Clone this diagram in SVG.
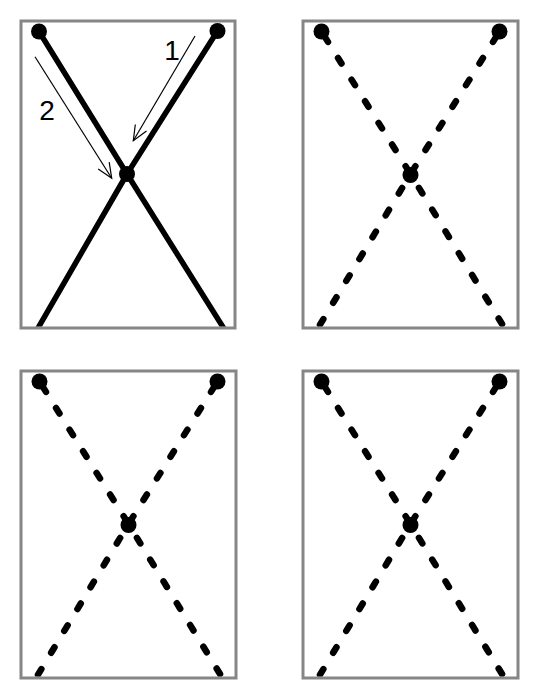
<svg xmlns="http://www.w3.org/2000/svg" xmlns:xlink="http://www.w3.org/1999/xlink" width="540" height="700" viewBox="0 0 540 700">
  <style>
    .frame { fill: #ffffff; stroke: #868686; stroke-width: 3; }
    .solid { fill: none; stroke: #000000; stroke-width: 5.5; stroke-linejoin: round; }
    .dash { fill: none; stroke: #000000; stroke-width: 6.5; stroke-linecap: round; stroke-dasharray: 6.5 19; stroke-dashoffset: 19.75; }
    .dot { fill: #000000; }
    .arrow { fill: none; stroke: #000000; stroke-width: 1.2; }
    .label { font-family: "Liberation Sans", Arial, sans-serif; font-size: 28px; fill: #000000; text-anchor: middle; }
  </style>
  <defs>
    <clipPath id="inner" clipPathUnits="userSpaceOnUse">
      <rect x="1.5" y="1.5" width="212" height="304"/>
    </clipPath>
    <marker id="openhead" markerUnits="userSpaceOnUse" markerWidth="20" markerHeight="20" viewBox="-17 -10 20 20" refX="0" refY="0" orient="auto">
      <path d="M-15,-6.5 L0,0 L-15,6.5" fill="none" stroke="#000000" stroke-width="1.2"/>
    </marker>
    <g id="dashed-x">
      <rect class="frame" x="0" y="0" width="215" height="307"/>
      <g class="connectors" clip-path="url(#inner)">
        <path class="dash" d="M18.5,10.5 L107.5,153 L202.7,309"/>
        <path class="dash" d="M196.5,10.5 L107.5,153 L13.8,309"/>
      </g>
      <circle class="dot" cx="18.5" cy="10.5" r="8"/>
      <circle class="dot" cx="196.5" cy="10.5" r="8"/>
      <circle class="dot" cx="107.5" cy="154" r="8"/>
    </g>
  </defs>

  <!-- Panel 1: solid X with arrows -->
  <g id="panel1" transform="translate(21,21)">
    <rect class="frame" x="0" y="0" width="214" height="307"/>
    <g id="panel1-connectors" clip-path="url(#inner)">
      <path class="solid" d="M18,10.5 L106,153 L203.8,309"/>
      <path class="solid" d="M196.5,10 L106,153 L15.9,309"/>
    </g>
    <g id="p1-node-tl"><circle class="dot" cx="18" cy="10.5" r="8"/></g>
    <g id="p1-node-tr"><circle class="dot" cx="196.5" cy="10" r="8"/></g>
    <g id="p1-node-center"><circle class="dot" cx="106" cy="153" r="8"/></g>
    <g id="p1-arrows">
      <line class="arrow" x1="174" y1="15" x2="112.3" y2="119.7" marker-end="url(#openhead)"/>
      <line class="arrow" x1="14" y1="35.7" x2="90.7" y2="157.3" marker-end="url(#openhead)"/>
    </g>
    <g id="p1-labels">
      <text class="label" x="151" y="39">1</text>
      <text class="label" x="26" y="99">2</text>
    </g>
  </g>

  <!-- Panel 2 -->
  <g id="panel2" transform="translate(303,21)">
    <use xlink:href="#dashed-x" href="#dashed-x"/>
  </g>

  <!-- Panel 3 -->
  <g id="panel3" transform="translate(21,371)">
    <use xlink:href="#dashed-x" href="#dashed-x"/>
  </g>

  <!-- Panel 4 -->
  <g id="panel4" transform="translate(303,371)">
    <use xlink:href="#dashed-x" href="#dashed-x"/>
  </g>
</svg>
